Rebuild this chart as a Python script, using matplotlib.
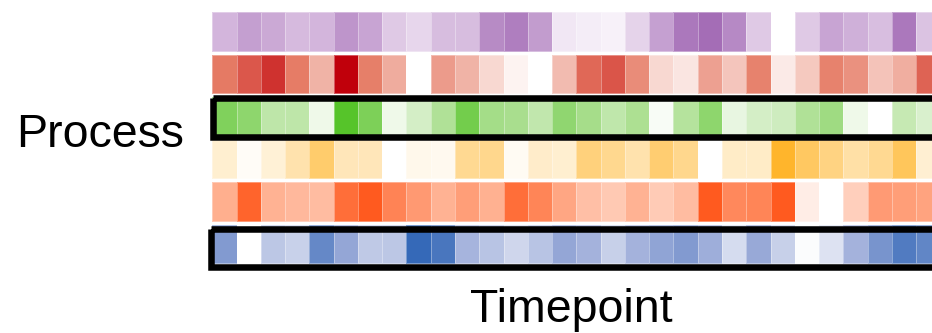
import matplotlib
matplotlib.use('Agg')
import matplotlib.pyplot as plt
from matplotlib.colors import LinearSegmentedColormap
from matplotlib.patches import Rectangle
import numpy as np

# ******************** DATA ********************
# relative intensity per timepoint (0 = white, 1 = full colour), one list per process row
purple = [0.49, 0.65, 0.58, 0.46, 0.49, 0.72, 0.61, 0.36, 0.27, 0.44,
          0.44, 0.79, 0.88, 0.67, 0.16, 0.12, 0.09, 0.29, 0.64, 0.92,
          1.00, 0.80, 0.36, 0.00, 0.36, 0.61, 0.53, 0.43, 0.92, 0.40]
red = [0.51, 0.65, 0.80, 0.50, 0.29, 1.00, 0.49, 0.32, 0.00, 0.38,
       0.29, 0.15, 0.05, 0.00, 0.26, 0.58, 0.66, 0.44, 0.15, 0.10,
       0.36, 0.22, 0.48, 0.08, 0.21, 0.48, 0.42, 0.23, 0.31, 0.60]
green = [0.75, 0.67, 0.39, 0.39, 0.10, 1.00, 0.77, 0.10, 0.26, 0.47,
         0.83, 0.54, 0.51, 0.37, 0.66, 0.53, 0.38, 0.49, 0.04, 0.44,
         0.67, 0.14, 0.26, 0.29, 0.47, 0.57, 0.10, 0.00, 0.34, 0.23]
yellow = [0.23, 0.04, 0.20, 0.40, 0.70, 0.34, 0.34, 0.00, 0.10, 0.08,
          0.53, 0.55, 0.06, 0.26, 0.23, 0.63, 0.54, 0.40, 0.68, 0.55,
          0.00, 0.27, 0.27, 1.00, 0.75, 0.60, 0.43, 0.53, 0.78, 0.22]
orange = [0.49, 0.94, 0.47, 0.43, 0.41, 0.88, 1.00, 0.75, 0.62, 0.47,
          0.59, 0.48, 0.88, 0.74, 0.54, 0.39, 0.33, 0.47, 0.32, 0.41,
          1.00, 0.72, 0.74, 1.00, 0.11, 0.00, 0.29, 0.61, 0.59, 0.56]
blue = [0.62, 0.00, 0.33, 0.27, 0.76, 0.53, 0.32, 0.33, 1.00, 0.90,
        0.44, 0.35, 0.24, 0.35, 0.53, 0.45, 0.28, 0.45, 0.55, 0.62,
        0.48, 0.21, 0.51, 0.28, 0.02, 0.17, 0.45, 0.67, 0.86, 0.78]

rows = [purple, red, green, yellow, orange, blue]
# colour stops per row: white -> mid -> full
row_colors = [['white', '#d2b4db', '#a46db6'],
              ['white', '#e67c66', '#c0000b'],
              ['white', '#abdf90', '#56c42a'],
              ['white', '#ffdb98', '#ffb52c'],
              ['white', '#ffad8c', '#ff5a1f'],
              ['white', '#9aaad8', '#3569b8']]
highlighted = [2, 5]   # rows boxed in black

# ******************** FIGURE ********************
fig = plt.figure(figsize=(9.32, 3.33), dpi=100)
plt.rcParams['font.family'] = ['Liberation Sans', 'DejaVu Sans']

# axes run past the right edge of the figure, so the last timepoint is cut
ax = fig.add_axes([212.3 / 932, 1 - 265.3 / 333, 728.1 / 932, 255 / 333])
ax.set_xlim(0, len(purple))
ax.set_ylim(len(rows), 0)
ax.axis('off')

gap = 0.045
x_edges = np.arange(len(purple) + 1)
for i, (vals, cols) in enumerate(zip(rows, row_colors)):
    cmap = LinearSegmentedColormap.from_list('row%d' % i, cols)
    ax.pcolormesh(x_edges, [i + gap, i + 1 - gap], np.array(vals)[None, :],
                  cmap=cmap, vmin=0, vmax=1,
                  edgecolors=(1, 1, 1, 0.35), linewidth=0.6)

# ******************** HIGHLIGHT BOXES ********************
boxes = {2: (0.03, 2.07, 2.98), 5: (-0.054, 5.14, 6.03)}
for r in highlighted:
    x0, y0, y1 = boxes[r]
    ax.add_patch(Rectangle((x0, y0), 32, y1 - y0, fill=False,
                           edgecolor='black', linewidth=4.7, clip_on=False))

# ******************** LABELS ********************
fig.text(183.5 / 932, 1 - 147.3 / 333, 'Process', ha='right', va='baseline',
         fontsize=33.5)
fig.text(571 / 932, 1 - 322 / 333, 'Timepoint', ha='center', va='baseline',
         fontsize=33.5)

fig.savefig('out.png', dpi=100)
